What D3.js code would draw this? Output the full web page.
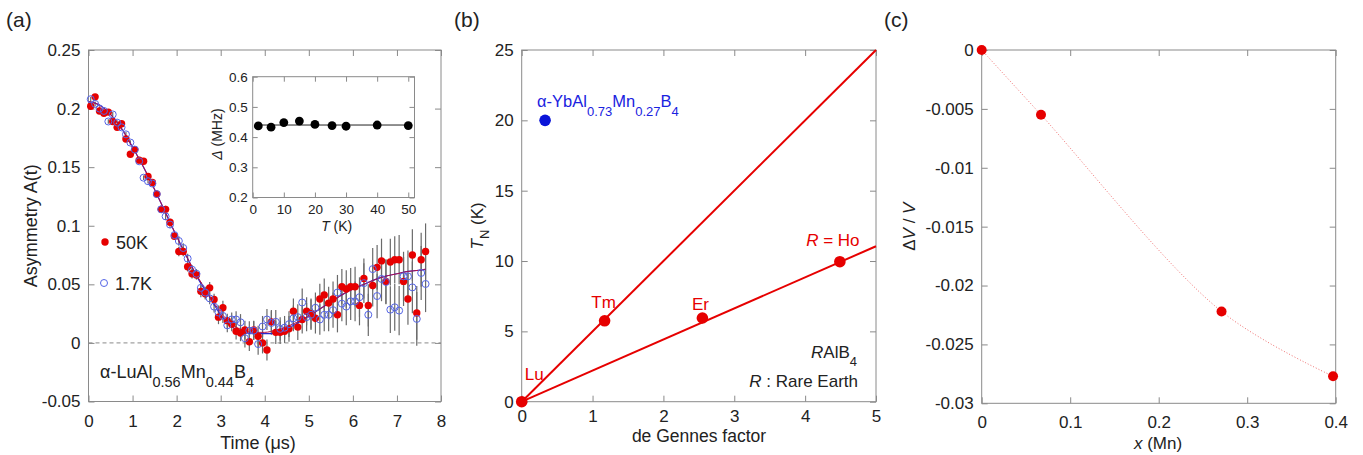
<!DOCTYPE html>
<html>
<head>
<meta charset="utf-8">
<script src="https://cdn.jsdelivr.net/npm/d3@7"></script>
<style>
  body { margin: 0; background: #fff; }
  svg text { font-family: "Liberation Sans", Arial, sans-serif; fill: #222; }
</style>
</head>
<body>
<svg id="chart" width="1363" height="455"></svg>
<script>
// ---- panel (a): muSR asymmetry, alpha-LuAl0.56Mn0.44B4 ----
const timeUs = [0.05,0.15,0.25,0.35,0.45,0.55,0.65,0.75,0.85,0.95,1.05,1.15,1.25,1.35,1.45,1.55,1.65,1.75,1.85,1.95,
  2.05,2.15,2.25,2.35,2.45,2.55,2.65,2.75,2.85,2.95,3.05,3.15,3.25,3.35,3.45,3.55,3.65,3.75,3.85,3.95,
  4.05,4.15,4.25,4.35,4.45,4.55,4.65,4.75,4.85,4.95,5.05,5.15,5.25,5.35,5.45,5.55,5.65,5.75,5.85,5.95,
  6.05,6.15,6.25,6.35,6.45,6.55,6.65,6.75,6.85,6.95,7.05,7.15,7.25,7.35,7.45,7.55,7.65];
const asym50K = [0.202,0.210,0.198,0.196,0.197,0.189,0.184,0.187,0.174,0.161,0.165,0.156,0.155,0.142,0.137,0.127,0.114,0.114,0.103,0.091,
  0.078,0.078,0.065,0.059,0.058,0.044,0.042,0.047,0.037,0.022,0.030,0.019,0.016,0.010,0.0085,0.011,0.001,0.011,0.0056,0.000,
  -0.006,0.018,0.009,0.009,0.010,0.012,0.027,0.0135,0.020,0.027,0.025,0.021,0.0375,0.041,0.034,0.0375,0.024,0.048,0.046,0.048,
  0.048,0.032,0.055,0.032,0.049,0.0645,0.070,0.0525,0.069,0.071,0.071,0.0525,0.0375,0.075,0.0256,0.071,0.078];
const asym17K = [0.208,0.204,0.200,0.198,0.189,0.195,0.188,0.184,0.178,0.171,0.165,0.155,0.141,0.138,0.136,0.127,0.114,0.108,0.101,0.092,
  0.087,0.081,0.072,0.0625,0.059,0.047,0.043,0.038,0.031,0.026,0.023,0.015,0.020,0.020,0.0176,0.004,0.0105,0.0105,-0.001,0.014,
  0.020,0.017,0.018,0.012,0.013,0.016,0.021,0.022,0.0345,0.022,0.024,0.030,0.020,0.024,0.024,0.028,0.043,0.0335,0.031,0.0355,
  0.0355,0.039,0.051,0.024,0.063,0.040,0.0546,0.052,0.0284,0.0304,0.0276,0.0568,0.0568,0.0474,0.0205,0.0597,0.0503];
const asymErr = [0.002,0.002,0.002,0.002,0.002,0.002,0.002,0.002,0.002,0.002,0.002,0.002,0.002,0.002,0.002,0.003,0.003,0.003,0.003,0.003,
  0.004,0.004,0.004,0.004,0.004,0.005,0.005,0.005,0.005,0.006,0.006,0.006,0.006,0.007,0.007,0.008,0.008,0.008,0.009,0.009,
  0.009,0.010,0.010,0.010,0.010,0.011,0.011,0.011,0.012,0.012,0.013,0.013,0.013,0.014,0.014,0.015,0.015,0.015,0.016,0.016,
  0.017,0.017,0.017,0.018,0.018,0.019,0.019,0.019,0.020,0.020,0.021,0.021,0.022,0.022,0.023,0.023,0.024];
const fitTime = [0,0.25,0.5,0.75,1,1.25,1.5,1.75,2,2.25,2.5,2.75,3,3.25,3.5,3.75,4,4.25,4.5,4.75,5,5.25,5.5,5.75,6,6.25,6.5,6.75,7,7.25,7.5,7.65];
const fit17K = [0.206,0.203,0.195,0.183,0.167,0.150,0.131,0.111,0.091,0.072,0.054,0.039,0.024,0.014,0.009,0.008,0.008,0.008,0.012,0.017,0.023,0.029,0.035,0.041,0.046,0.050,0.054,0.057,0.059,0.061,0.062,0.0625];
const fit50K = [0.206,0.203,0.195,0.183,0.167,0.150,0.131,0.111,0.091,0.072,0.055,0.040,0.026,0.016,0.011,0.009,0.009,0.011,0.014,0.018,0.023,0.029,0.035,0.041,0.046,0.050,0.054,0.057,0.059,0.061,0.062,0.063];
const timeTicks = [0,1,2,3,4,5,6,7,8];
const asymTicks = [-0.05,0,0.05,0.1,0.15,0.2,0.25];

// inset: relaxation rate vs temperature
const insetT = [1.8,5.9,10,15,20,25.5,30,40,50];
const insetDelta = [0.437,0.433,0.448,0.453,0.442,0.438,0.436,0.440,0.438];
const insetFitT = [1.8,50];
const insetFitDelta = [0.44,0.44];
const insetTTicks = [0,10,20,30,40,50];
const insetDTicks = [0.2,0.3,0.4,0.5,0.6];

// ---- panel (b): T_N vs de Gennes factor ----
const rareEarth = ['Lu','Tm','Er','Ho'];
const deGennes = [0,1.17,2.55,4.49];
const tnK = [0,5.75,5.95,9.95];
const ybDeGennes = [0.33];
const ybTn = [20];
const steepLineX = [0,5], steepLineY = [0,25];
const shallowLineX = [0,5], shallowLineY = [0,11.05];
const dgTicks = [0,1,2,3,4,5];
const tnTicks = [0,5,10,15,20,25];

// ---- panel (c): volume change vs Mn content ----
const xMn = [0,0.067,0.271,0.397];
const dVV = [0,-0.0055,-0.0222,-0.0277];
const xMnTicks = [0,0.1,0.2,0.3,0.4];
const dVTicks = [-0.03,-0.025,-0.02,-0.015,-0.01,-0.005,0];

const grey = '#8a8a8a';
const red = '#e60000';
const svg = d3.select('#chart');
const fmt = d => String(+d.toFixed(3));

// frame with inward ticks on all four sides, labels on bottom/left
function frame(g, x, y, o) {
  const [xl, xr] = x.range(), [yb, yt] = y.range();
  const style = a => {
    a.select('.domain').remove();
    a.selectAll('.tick line').attr('stroke', grey);
    a.selectAll('.tick text').attr('font-size', o.fs).attr('fill', '#222');
  };
  const none = () => '';
  g.append('g').attr('transform', `translate(0,${yb})`)
    .call(d3.axisBottom(x).tickValues(o.xt).tickSize(-o.tl).tickPadding(o.xp).tickFormat(fmt)).call(style);
  g.append('g').attr('transform', `translate(0,${yt})`)
    .call(d3.axisTop(x).tickValues(o.xt).tickSize(-o.tl).tickFormat(none)).call(style);
  g.append('g').attr('transform', `translate(${xl},0)`)
    .call(d3.axisLeft(y).tickValues(o.yt).tickSize(-o.tl).tickPadding(o.yp).tickFormat(fmt)).call(style);
  g.append('g').attr('transform', `translate(${xr},0)`)
    .call(d3.axisRight(y).tickValues(o.yt).tickSize(-o.tl).tickFormat(none)).call(style);
  g.append('rect').attr('x', xl).attr('y', yt).attr('width', xr - xl).attr('height', yb - yt)
    .attr('fill', 'none').attr('stroke', grey).attr('stroke-width', 1);
}

// text with italic parts and subscripts
function rich(t, parts, subSize, shift) {
  let down = false;
  parts.forEach(p => {
    const s = t.append('tspan').text(p.t);
    if (p.i) s.attr('font-style', 'italic');
    if (p.sub) {
      s.attr('font-size', subSize);
      if (!down) { s.attr('dy', shift); down = true; }
    } else if (down) { s.attr('dy', -shift); down = false; }
  });
  return t;
}

function panelLabel(x, y, s) {
  svg.append('text').attr('x', x).attr('y', y).attr('font-size', 21).text(s);
}

// ================= panel (a) =================
{
  const g = svg.append('g');
  const x = d3.scaleLinear().domain([0, 8]).range([88.5, 441]);
  const y = d3.scaleLinear().domain([-0.05, 0.25]).range([401.5, 50]);

  g.append('line').attr('x1', x(0)).attr('x2', x(8)).attr('y1', y(0)).attr('y2', y(0))
    .attr('stroke', grey).attr('stroke-dasharray', '4,3');

  frame(g, x, y, { xt: timeTicks, yt: asymTicks, tl: 6, xp: 13, yp: 8, fs: 17 });

  const bars = (vals, cls) => g.append('g').selectAll('line').data(vals).join('line')
    .attr('class', cls)
    .attr('x1', (d, i) => x(timeUs[i])).attr('x2', (d, i) => x(timeUs[i]))
    .attr('y1', (d, i) => y(d - asymErr[i])).attr('y2', (d, i) => y(d + asymErr[i]))
    .attr('stroke', '#6a6a6a').attr('stroke-width', 1.2);
  bars(asym17K, 'err17');
  bars(asym50K, 'err50');

  const line = d3.line().x((d, i) => x(fitTime[i])).y(d => y(d)).curve(d3.curveMonotoneX);
  g.append('path').datum(fit17K).attr('d', line).attr('fill', 'none').attr('stroke', '#2a2acc').attr('stroke-width', 1.2);
  g.append('path').datum(fit50K).attr('d', line).attr('fill', 'none').attr('stroke', '#b0104a').attr('stroke-width', 1);

  g.append('g').selectAll('circle').data(asym50K).join('circle')
    .attr('cx', (d, i) => x(timeUs[i])).attr('cy', d => y(d)).attr('r', 3.7).attr('fill', red);
  g.append('g').selectAll('circle').data(asym17K).join('circle')
    .attr('cx', (d, i) => x(timeUs[i])).attr('cy', d => y(d)).attr('r', 3.5)
    .attr('fill', 'none').attr('stroke', '#5565e6').attr('stroke-width', 1);

  // legend
  g.append('circle').attr('cx', 105).attr('cy', 242).attr('r', 3.7).attr('fill', red);
  g.append('text').attr('x', 116).attr('y', 249).attr('font-size', 18).text('50K');
  g.append('circle').attr('cx', 104).attr('cy', 283).attr('r', 3.5).attr('fill', 'none').attr('stroke', '#5565e6');
  g.append('text').attr('x', 115).attr('y', 290).attr('font-size', 18).text('1.7K');

  rich(g.append('text').attr('x', 100).attr('y', 378).attr('font-size', 18),
    [{ t: 'α-LuAl' }, { t: '0.56', sub: true }, { t: 'Mn' }, { t: '0.44', sub: true }, { t: 'B' }, { t: '4', sub: true }], 14.5, 9);

  g.append('text').attr('x', 258).attr('y', 449).attr('text-anchor', 'middle').attr('font-size', 18).text('Time (μs)');
  g.append('text').attr('transform', `translate(37,${y(0.1)}) rotate(-90)`).attr('text-anchor', 'middle')
    .attr('font-size', 18).text('Asymmetry A(t)');

  // inset
  const xi = d3.scaleLinear().domain([0, 52]).range([252.7, 414.5]);
  const yi = d3.scaleLinear().domain([0.2, 0.6]).range([197.5, 76.7]);
  const gi = g.append('g');
  gi.append('rect').attr('x', 252.7).attr('y', 76.7).attr('width', 161.8).attr('height', 120.8).attr('fill', '#fff');
  frame(gi, xi, yi, { xt: insetTTicks, yt: insetDTicks, tl: 5, xp: 7, yp: 5, fs: 13.5 });
  gi.append('path').datum(insetFitDelta)
    .attr('d', d3.line().x((d, i) => xi(insetFitT[i])).y(d => yi(d)))
    .attr('stroke', '#222').attr('stroke-width', 1).attr('fill', 'none');
  gi.append('g').selectAll('circle').data(insetDelta).join('circle')
    .attr('cx', (d, i) => xi(insetT[i])).attr('cy', d => yi(d)).attr('r', 4.4).attr('fill', '#000');
  rich(gi.append('text').attr('x', xi(27)).attr('y', 231).attr('text-anchor', 'middle').attr('font-size', 14),
    [{ t: 'T', i: true }, { t: ' (K)' }], 14, 0);
  rich(gi.append('text').attr('transform', `translate(222,${yi(0.41)}) rotate(-90)`).attr('text-anchor', 'middle').attr('font-size', 14),
    [{ t: 'Δ', i: true }, { t: ' (MHz)' }], 14, 0);
}
panelLabel(6, 27, '(a)');

// ================= panel (b) =================
{
  const g = svg.append('g');
  const x = d3.scaleLinear().domain([0, 5]).range([521.7, 876]);
  const y = d3.scaleLinear().domain([0, 25]).range([401.7, 50]);
  frame(g, x, y, { xt: dgTicks, yt: tnTicks, tl: 6, xp: 8, yp: 8, fs: 17 });

  const ln = (xs) => d3.line().x((d, i) => x(xs[i])).y(d => y(d));
  g.append('path').datum(steepLineY).attr('d', ln(steepLineX)).attr('stroke', red).attr('stroke-width', 2).attr('fill', 'none');
  g.append('path').datum(shallowLineY).attr('d', ln(shallowLineX)).attr('stroke', red).attr('stroke-width', 2).attr('fill', 'none');

  g.append('g').selectAll('circle').data(tnK).join('circle')
    .attr('cx', (d, i) => x(deGennes[i])).attr('cy', d => y(d)).attr('r', 5.8).attr('fill', red);
  g.append('g').selectAll('circle').data(ybTn).join('circle')
    .attr('cx', (d, i) => x(ybDeGennes[i])).attr('cy', d => y(d)).attr('r', 5.8).attr('fill', '#0a14d8');

  // element labels: [dx, dy] offsets from each point
  const off = [[3, -22, 'start'], [-1, -13, 'middle'], [-2, -8, 'middle'], [-7, -16, 'middle']];
  rareEarth.forEach((n, i) => {
    const t = g.append('text').attr('x', x(deGennes[i]) + off[i][0]).attr('y', y(tnK[i]) + off[i][1])
      .attr('text-anchor', off[i][2]).attr('font-size', 17).style('fill', red);
    if (n === 'Ho') rich(t, [{ t: 'R', i: true }, { t: ' = Ho' }], 17, 0);
    else t.text(n);
  });

  rich(g.append('text').attr('x', x(ybDeGennes[0]) - 8).attr('y', y(ybTn[0]) - 13).attr('font-size', 16.5).style('fill', '#1a22e0'),
    [{ t: 'α-YbAl' }, { t: '0.73', sub: true }, { t: 'Mn' }, { t: '0.27', sub: true }, { t: 'B' }, { t: '4', sub: true }], 13, 9)
    .selectAll('tspan').style('fill', '#1a22e0');

  rich(g.append('text').attr('x', 857).attr('y', 358).attr('text-anchor', 'end').attr('font-size', 17),
    [{ t: 'R', i: true }, { t: 'AlB' }, { t: '4', sub: true }], 13, 8);
  rich(g.append('text').attr('x', 858).attr('y', 387).attr('text-anchor', 'end').attr('font-size', 17),
    [{ t: 'R', i: true }, { t: ' : Rare Earth' }], 17, 0);

  g.append('text').attr('x', 699).attr('y', 442).attr('text-anchor', 'middle').attr('font-size', 17.5).text('de Gennes factor');
  rich(g.append('text').attr('transform', `translate(483,${y(12.5)}) rotate(-90)`).attr('text-anchor', 'middle').attr('font-size', 17),
    [{ t: 'T', i: true }, { t: 'N', sub: true }, { t: ' (K)' }], 13, 6);
}
panelLabel(454, 27, '(b)');

// ================= panel (c) =================
{
  const g = svg.append('g');
  const x = d3.scaleLinear().domain([0, 0.4]).range([981.7, 1335.7]);
  const y = d3.scaleLinear().domain([-0.03, 0]).range([403.3, 50]);
  frame(g, x, y, { xt: xMnTicks, yt: dVTicks, tl: 6, xp: 13, yp: 8, fs: 17 });

  g.append('path').datum(dVV)
    .attr('d', d3.line().x((d, i) => x(xMn[i])).y(d => y(d)).curve(d3.curveCatmullRom))
    .attr('fill', 'none').attr('stroke', '#f07070').attr('stroke-width', 1).attr('stroke-dasharray', '1,2');
  g.append('g').selectAll('circle').data(dVV).join('circle')
    .attr('cx', (d, i) => x(xMn[i])).attr('cy', d => y(d)).attr('r', 5).attr('fill', red);

  rich(g.append('text').attr('x', 1158).attr('y', 449).attr('text-anchor', 'middle').attr('font-size', 17),
    [{ t: 'x', i: true }, { t: ' (Mn)' }], 17, 0);
  rich(g.append('text').attr('transform', `translate(915,${y(-0.015)}) rotate(-90)`).attr('text-anchor', 'middle').attr('font-size', 17),
    [{ t: 'Δ' }, { t: 'V', i: true }, { t: ' / ' }, { t: 'V', i: true }], 17, 0);
}
panelLabel(884, 27, '(c)');
</script>
</body>
</html>
